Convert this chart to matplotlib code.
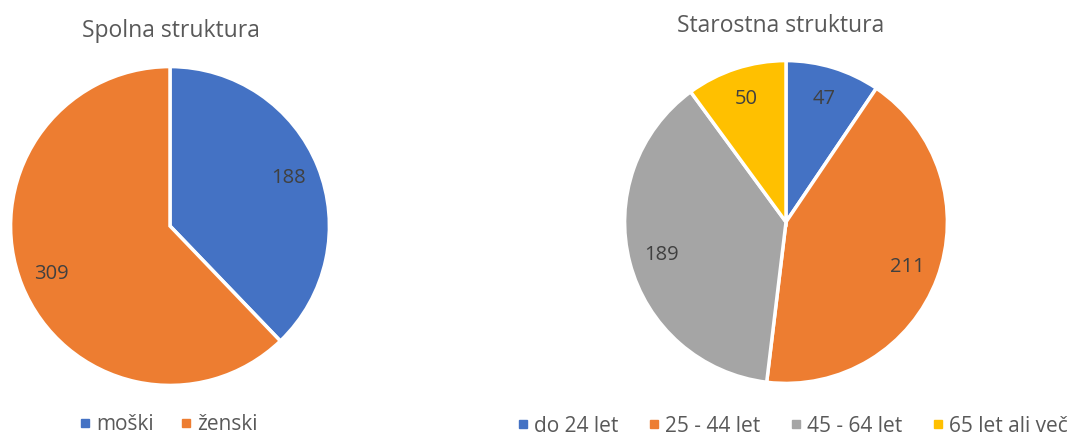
import matplotlib.pyplot as plt
from matplotlib.lines import Line2D

plt.rcParams['font.family'] = ['Open Sans', 'DejaVu Sans']

# data
spol_labels = ['moški', 'ženski']
spol_values = [188, 309]
spol_colors = ['#4472C4', '#ED7D31']

starost_labels = ['do 24 let', '25 - 44 let', '45 - 64 let', '65 let ali več']
starost_values = [47, 211, 189, 50]
starost_colors = ['#4472C4', '#ED7D31', '#A5A5A5', '#FFC000']

W, H = 1075, 437
fig = plt.figure(figsize=(W / 100, H / 100), dpi=100)
txt = '#404040'
grey = '#595959'


def pie_axes(cx, cy, r):
    ax = fig.add_axes([(cx - r) / W, (H - cy - r) / H, 2 * r / W, 2 * r / H])
    return ax


def draw(ax, values, colors, dist):
    wedges, texts, autotexts = ax.pie(
        values, colors=colors, startangle=90, counterclock=False, radius=1,
        autopct=lambda p: '%d' % round(p * sum(values) / 100),
        pctdistance=dist, wedgeprops=dict(edgecolor='white', linewidth=2.5),
        textprops=dict(color=txt, fontsize=14.5))
    ax.set_xlim(-1.01, 1.01)
    ax.set_ylim(-1.01, 1.01)
    ax.set_aspect('equal')
    ax.axis('off')
    return autotexts


ax1 = pie_axes(170, 226, 161)
draw(ax1, spol_values, spol_colors, 0.8)
fig.text(171 / W, 1 - 31 / H, 'Spolna struktura', ha='center', va='center',
         fontsize=16.5, color=grey)

ax2 = pie_axes(786, 222, 163)
draw(ax2, starost_values, starost_colors, 0.8)
fig.text(781 / W, 1 - 26 / H, 'Starostna struktura', ha='center', va='center',
         fontsize=16.5, color=grey)


def handles(colors):
    return [Line2D([], [], marker='s', linestyle='', markersize=6,
                   color=c) for c in colors]


leg1 = fig.legend(handles(spol_colors), spol_labels, loc='center',
                  bbox_to_anchor=(169 / W, 1 - 425 / H), ncol=2, frameon=False,
                  fontsize=15, handlelength=0.45, handletextpad=0.3,
                  columnspacing=1.3, labelcolor=grey)
leg2 = fig.legend(handles(starost_colors), starost_labels, loc='center',
                  bbox_to_anchor=(793 / W, 1 - 426 / H), ncol=4, frameon=False,
                  fontsize=15, handlelength=0.45, handletextpad=0.3,
                  columnspacing=1.5, labelcolor=grey)

fig.savefig('out.png', dpi=100, facecolor='white')
